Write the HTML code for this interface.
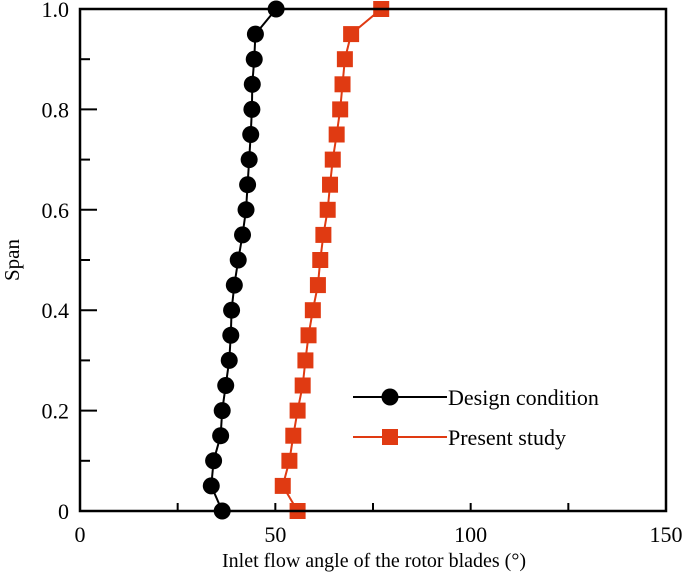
<!DOCTYPE html>
<html><head><meta charset="utf-8"><style>
body{margin:0;background:#fff}
svg{display:block;font-family:"Liberation Serif",serif}
</style></head><body>
<svg id="chart" width="685" height="581" viewBox="0 0 685 581" xmlns="http://www.w3.org/2000/svg">
<g id="marks"></g>
<rect x="80" y="9" width="586" height="502" fill="none" stroke="#000" stroke-width="2.5"/>
<g id="ticks"></g>
<text x="374" y="567" font-size="20" text-anchor="middle">Inlet flow angle of the rotor blades (°)</text>
<text transform="translate(19,260) rotate(-90)" font-size="21" text-anchor="middle">Span</text>
<g>
<line x1="353" y1="397" x2="447" y2="397" stroke="#000" stroke-width="2"/>
<circle cx="390" cy="397" r="8.5" fill="#000"/>
<text x="448" y="405" font-size="22">Design condition</text>
<line x1="353" y1="437" x2="447" y2="437" stroke="#e03a12" stroke-width="2"/>
<rect x="382" y="429" width="16" height="16" fill="#e03a12"/>
<text x="448" y="445" font-size="22">Present study</text>
</g>
</svg>
<script>
const spans=[0,0.05,0.1,0.15,0.2,0.25,0.3,0.35,0.4,0.45,0.5,0.55,0.6,0.65,0.7,0.75,0.8,0.85,0.9,0.95,1.0];
const designAngles=[36.4,33.6,34.2,36,36.4,37.3,38.2,38.6,38.8,39.5,40.5,41.6,42.5,42.9,43.3,43.7,44,44.1,44.6,44.9,50.2];
const presentAngles=[55.7,51.9,53.6,54.6,55.7,57,57.7,58.5,59.6,60.9,61.5,62.3,63.4,64,64.7,65.7,66.6,67.2,67.8,69.4,77.1];
const xTicks=[0,25,50,75,100,125,150];
const xLabels=["0","","50","","100","","150"];
const yTicks=[0,0.1,0.2,0.3,0.4,0.5,0.6,0.7,0.8,0.9,1.0];
const yLabels=["0","","0.2","","0.4","","0.6","","0.8","","1.0"];
const NS="http://www.w3.org/2000/svg";
const X=v=>80+v*(586/150), Y=v=>511-v*502;
function mk(t,a,p){const e=document.createElementNS(NS,t);for(const k in a)e.setAttribute(k,a[k]);p.appendChild(e);return e;}
const marks=document.getElementById('marks'), ticks=document.getElementById('ticks');
function series(vals,color,name,shape){
  const g=mk('g',{},marks);
  
  
  const l=mk('polyline',{points:vals.map((v,i)=>X(v)+','+Y(spans[i])).join(' '),fill:'none',stroke:color,'stroke-width':2},g);
  
  
  vals.forEach((v,i)=>{
    let m;
    if(shape==='c') m=mk('circle',{cx:X(v),cy:Y(spans[i]),r:8.5,fill:color},g);
    else m=mk('rect',{x:X(v)-8,y:Y(spans[i])-8,width:16,height:16,fill:color},g);
    
    
  });
}
series(designAngles,'#000','design-condition-series','c');
series(presentAngles,'#e03a12','present-study-series','s');
xTicks.forEach((v,i)=>{
  const major=xLabels[i]!=='';
  const t=mk('line',{x1:X(v),x2:X(v),y1:511,y2:511-8,stroke:'#000','stroke-width':2},ticks);
  
  
  if(major){const tx=mk('text',{x:X(v),y:542,'font-size':22,'text-anchor':'middle'},ticks);tx.textContent=xLabels[i];
  
  }
});
yTicks.forEach((v,i)=>{
  const major=yLabels[i]!=='';
  const t=mk('line',{x1:80,x2:80+(major?17:10),y1:Y(v),y2:Y(v),stroke:'#000','stroke-width':2},ticks);
  
  
  if(major){const tx=mk('text',{x:69,y:Y(v)+8,'font-size':22,'text-anchor':'end'},ticks);tx.textContent=yLabels[i];
  
  }
});
</script>
</body></html>
